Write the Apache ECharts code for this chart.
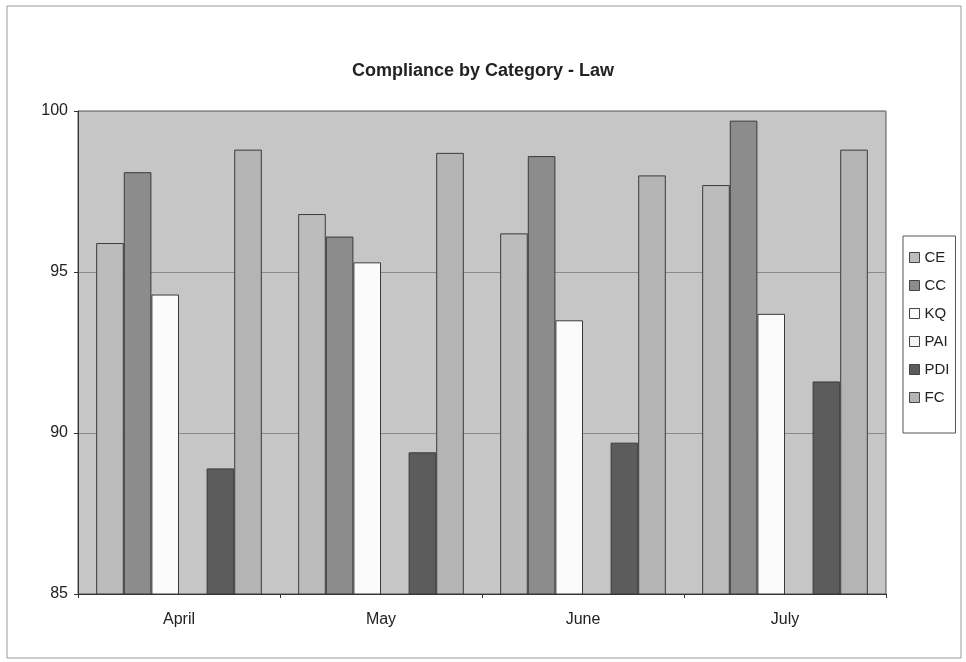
<!DOCTYPE html>
<html>
<head>
<meta charset="utf-8">
<title>Compliance by Category - Law</title>
<script src="https://cdn.jsdelivr.net/npm/echarts@6/dist/echarts.min.js"></script>
<style>
  html, body { margin: 0; padding: 0; background: #fff; }
  #chart { width: 966px; height: 662px; }
</style>
</head>
<body>
<div id="chart"></div>
<script>
// months on the x axis
const months = ['April', 'May', 'June', 'July']
// one array per category, in month order (PAI has no bar above 85)
const ce = [95.9, 96.8, 96.2, 97.7]
const cc = [98.1, 96.1, 98.6, 99.7]
const kq = [94.3, 95.3, 93.5, 93.7]
const pai = [null, null, null, null]
const pdi = [88.9, 89.4, 89.7, 91.6]
const fc = [98.8, 98.7, 98.0, 98.8]
const yTicks = [85, 90, 95, 100]

const seriesNames = ['CE', 'CC', 'KQ', 'PAI', 'PDI', 'FC']
const seriesData = [ce, cc, kq, pai, pdi, fc]
const colors = ['#bcbcbc', '#8c8c8c', '#fbfbfb', '#f4f4f4', '#5c5c5c', '#b4b4b4']

const chart = echarts.init(document.getElementById('chart'))

chart.setOption({
  animation: false,
  textStyle: { fontFamily: 'Liberation Sans, Arial, sans-serif' },
  title: {
    text: 'Compliance by Category - Law',
    left: 'center',
    top: 57,
    textStyle: { fontSize: 18, fontWeight: 'bold', color: '#222' }
  },
  graphic: [
    {
      // outer chart frame
      type: 'rect',
      shape: { x: 7, y: 6, width: 954, height: 652 },
      style: { fill: 'none', stroke: '#9a9a9a', lineWidth: 1 },
      silent: true
    }
  ],
  legend: {
    orient: 'vertical',
    left: 903,
    top: 236,
    itemGap: 13,
    itemWidth: 10,
    itemHeight: 10,
    icon: 'rect',
    padding: [14, 6, 28, 6],
    borderColor: '#555',
    borderWidth: 1,
    textStyle: { fontSize: 15, color: '#222' },
    itemStyle: { borderColor: '#444', borderWidth: 1 },
    data: seriesNames
  },
  grid: {
    left: 78,
    right: 80,
    top: 111,
    bottom: 68,
    show: true,
    backgroundColor: '#c6c6c6',
    borderColor: '#555',
    borderWidth: 1
  },
  xAxis: {
    type: 'category',
    data: months,
    axisLine: { lineStyle: { color: '#333' } },
    axisTick: { show: true, length: 4, lineStyle: { color: '#333' } },
    axisLabel: { fontSize: 16, color: '#222', margin: 18 }
  },
  yAxis: {
    type: 'value',
    min: yTicks[0],
    max: yTicks[yTicks.length - 1],
    interval: 5,
    axisLine: { show: true, lineStyle: { color: '#333' } },
    axisTick: { show: true, length: 4, lineStyle: { color: '#333' } },
    axisLabel: { fontSize: 16, color: '#222', margin: 10 },
    splitLine: { lineStyle: { color: '#8a8a8a', width: 1 } }
  },
  series: seriesNames.map((name, i) => ({
    name: name,
    type: 'bar',
    data: seriesData[i],
    barGap: '0%',
    barCategoryGap: '18%',
    itemStyle: {
      color: colors[i],
      borderColor: '#3a3a3a',
      borderWidth: 1
    }
  }))
})
</script>
</body>
</html>
